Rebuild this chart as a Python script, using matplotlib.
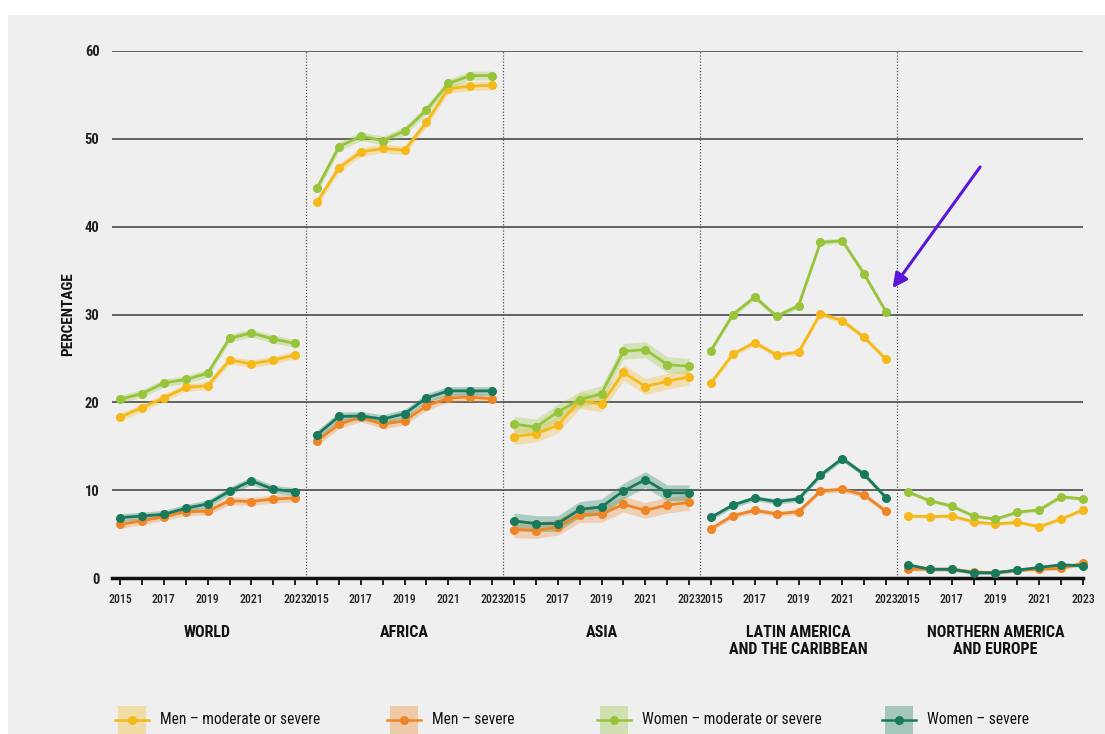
import numpy as np
import matplotlib
matplotlib.use("Agg")
import matplotlib.pyplot as plt
from matplotlib import font_manager as fm
from matplotlib.patches import Rectangle
from matplotlib.lines import Line2D


def narrow_font():
    """Return (family, stretch) of the narrowest installed sans family."""
    named = ["Roboto Condensed", "Liberation Sans Narrow", "Open Sans Condensed",
             "Noto Sans Condensed", "Lato Condensed"]
    names = {f.name for f in fm.fontManager.ttflist}
    for n in named:
        if n in names:
            return n, "normal"
    for f in fm.fontManager.ttflist:
        if f.name in ("DejaVu Sans", "Roboto", "Noto Sans", "Open Sans") and \
                str(f.stretch) in ("condensed", "semi-condensed", "extra-condensed"):
            return f.name, f.stretch
    return "Liberation Sans", "normal"


FAMILY, STRETCH = narrow_font()
plt.rcParams["font.family"] = [FAMILY, "DejaVu Sans"]
plt.rcParams["font.stretch"] = STRETCH

years = list(range(2015, 2024))
regions = ["WORLD", "AFRICA", "ASIA",
           "LATIN AMERICA\nAND THE CARIBBEAN", "NORTHERN AMERICA\nAND EUROPE"]

# Prevalence of food insecurity (%), one row per region, 2015-2023
men_moderate_severe = [
    [18.3, 19.4, 20.5, 21.7, 21.9, 24.8, 24.4, 24.8, 25.4],
    [42.8, 46.7, 48.5, 48.9, 48.7, 51.9, 55.7, 56.0, 56.1],
    [16.1, 16.4, 17.4, 20.2, 19.8, 23.4, 21.8, 22.4, 22.9],
    [22.2, 25.5, 26.8, 25.4, 25.7, 30.1, 29.3, 27.4, 24.9],
    [7.05, 7.0, 7.05, 6.4, 6.15, 6.35, 5.85, 6.7, 7.75],
]
men_severe = [
    [6.1, 6.5, 7.0, 7.55, 7.6, 8.8, 8.7, 9.0, 9.1],
    [15.6, 17.5, 18.3, 17.5, 17.9, 19.6, 20.5, 20.6, 20.4],
    [5.5, 5.4, 5.8, 7.2, 7.25, 8.4, 7.7, 8.3, 8.6],
    [5.6, 7.1, 7.7, 7.3, 7.55, 9.9, 10.1, 9.45, 7.6],
    [1.0, 1.0, 1.0, 0.7, 0.6, 0.9, 1.0, 1.1, 1.7],
]
women_moderate_severe = [
    [20.35, 21.0, 22.2, 22.6, 23.3, 27.3, 27.9, 27.2, 26.7],
    [44.4, 49.1, 50.3, 49.8, 50.9, 53.3, 56.3, 57.2, 57.2],
    [17.5, 17.2, 18.9, 20.3, 21.0, 25.8, 26.0, 24.3, 24.1],
    [25.9, 30.0, 32.0, 29.8, 31.0, 38.2, 38.4, 34.6, 30.3],
    [9.8, 8.8, 8.2, 7.05, 6.7, 7.5, 7.75, 9.25, 9.0],
]
women_severe = [
    [6.87, 7.06, 7.25, 7.94, 8.43, 9.9, 11.08, 10.1, 9.83],
    [16.3, 18.4, 18.45, 18.1, 18.7, 20.5, 21.3, 21.3, 21.3],
    [6.5, 6.2, 6.2, 7.8, 8.1, 9.9, 11.2, 9.7, 9.7],
    [6.9, 8.3, 9.1, 8.7, 9.0, 11.7, 13.6, 11.8, 9.15],
    [1.5, 1.0, 1.0, 0.6, 0.6, 0.9, 1.2, 1.5, 1.4],
]
# half-width of the uncertainty band around each estimate, per region
band_half_width = [0.45, 0.5, 0.9, 0.3, 0.2]

series = [
    ("Men \u2013 moderate or severe", men_moderate_severe, "#f6b91c"),
    ("Men \u2013 severe", men_severe, "#ee8526"),
    ("Women \u2013 moderate or severe", women_moderate_severe, "#98c43c"),
    ("Women \u2013 severe", women_severe, "#187a5b"),
]

W, H, DPI = 1105, 734, 100
fig = plt.figure(figsize=(W / DPI, H / DPI), dpi=DPI, facecolor="white")
bg = "#efefef"
fig.add_artist(Rectangle((8 / W, 0), 1 - 8 / W, (H - 15) / H,
                         transform=fig.transFigure, facecolor=bg,
                         edgecolor="none", zorder=0))

ax = fig.add_axes([112 / W, (H - 578) / H, (1083 - 112) / W, (578 - 51) / H])
ax.set_facecolor("none")

n = len(years)
for r in range(len(regions)):
    xs = np.arange(n) + r * n
    for label, data, color in series:
        vals = np.array(data[r])
        hw = band_half_width[r]
        ax.fill_between(xs, vals - hw, vals + hw, color=color, alpha=0.3,
                        linewidth=0, zorder=2)
        ax.plot(xs, vals, color=color, lw=2, marker="o", ms=5.5,
                zorder=3, clip_on=False)

# dotted separators between regions
for r in range(1, len(regions)):
    ax.axvline(r * n - 0.5, color="#555555", lw=0.9, ls=(0, (1, 1.5)), zorder=1)

ax.set_xlim(-0.37, len(regions) * n - 1)
ax.set_ylim(0, 60)
ax.set_yticks(range(0, 61, 10))
ax.yaxis.grid(True, color="#4a4a4a", lw=1.2, zorder=1)
ax.set_axisbelow(True)
ax.tick_params(axis="y", length=0, pad=9, labelsize=10.5, labelcolor="#222222")
for t in ax.get_yticklabels():
    t.set_fontweight("bold")

xt = np.arange(len(regions) * n)
xl = [str(years[i % n]) if (i % n) % 2 == 0 else "" for i in xt]
ax.set_xticks(xt)
ax.set_xticklabels(xl)
ax.tick_params(axis="x", length=5, width=1.3, color="#111111", pad=6,
               labelsize=8.5, labelcolor="#222222")
for t in ax.get_xticklabels():
    t.set_fontweight("medium")

for s in ["top", "right", "left"]:
    ax.spines[s].set_visible(False)
ax.spines["bottom"].set_linewidth(2.5)
ax.spines["bottom"].set_color("#111111")

ax.set_ylabel("PERCENTAGE", fontsize=11, fontweight="bold", labelpad=7,
              color="#111111")

# region names under the axis
for r, name in enumerate(regions):
    ax.text(r * n + (n - 1) / 2, -5.4, name, ha="center", va="top",
            fontsize=11.5, fontweight="bold", color="#111111",
            linespacing=1.1, transform=ax.transData)

# arrow pointing at the 2023 value for women in Latin America
ax.annotate("", xy=(35.3, 33.0), xytext=(39.3, 46.8),
            arrowprops=dict(arrowstyle="-|>", color="#5a17d8", lw=2.2,
                            mutation_scale=22, shrinkA=0, shrinkB=0),
            annotation_clip=False, zorder=5)

# legend row at the bottom
legend_x = [118, 390, 600, 885]
for (label, data, color), x0 in zip(series, legend_x):
    fig.add_artist(Rectangle((x0 / W, 0), 28 / W, 28 / H,
                             transform=fig.transFigure, facecolor=color,
                             alpha=0.35, edgecolor="none"))
    yc = (H - 720) / H
    fig.add_artist(Line2D([(x0 - 3) / W, (x0 + 31) / W], [yc, yc],
                          transform=fig.transFigure, color=color, lw=1.8))
    fig.add_artist(Line2D([(x0 + 14) / W], [yc], transform=fig.transFigure,
                          color=color, marker="o", ms=5.5))
    fig.text((x0 + 42) / W, yc, label, ha="left", va="center",
             fontsize=11.2, color="#111111")

fig.savefig("out.png", dpi=DPI, facecolor="white")
